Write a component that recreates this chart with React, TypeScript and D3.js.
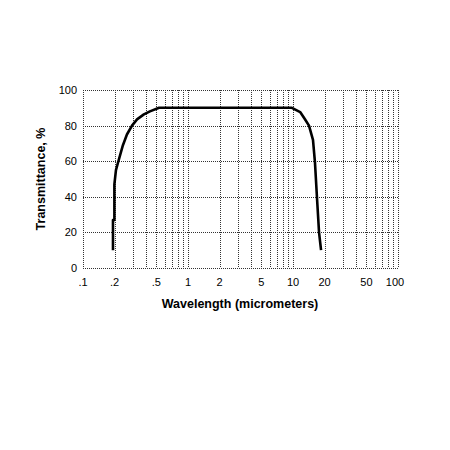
import React, { useRef, useEffect } from "react";
import * as d3 from "d3";

// wavelength (micrometers) and transmittance (%)
const wavelengths = [
  0.193, 0.193, 0.199, 0.199, 0.206, 0.215, 0.24, 0.262, 0.293, 0.327, 0.38, 0.434, 0.53,
  9.77, 11.7, 13.0, 14.2, 15.5, 16.2, 16.9, 17.7, 18.5,
];
const transmittance = [
  10, 27, 27, 47, 55, 59, 69, 75, 80, 83.5, 86.3, 88, 90,
  90, 87.6, 83.6, 80, 72, 59, 40, 20, 10,
];

const xTicks = [0.1, 0.2, 0.5, 1, 2, 5, 10, 20, 50, 100];
const xTickLabels = [".1", ".2", ".5", "1", "2", "5", "10", "20", "50", "100"];
const yTicks = [0, 20, 40, 60, 80, 100];

const FONT = "'Liberation Sans', Arial, sans-serif";

const App = () => {
  const svgRef = useRef(null);

  useEffect(() => {
    if (!svgRef.current) return;

    const width = 450;
    const height = 450;
    const plot = { left: 83, right: 398, top: 90, bottom: 268 };

    const svg = d3.select(svgRef.current);
    svg.selectAll("*").remove();

    svg.append("rect")
      .attr("width", width)
      .attr("height", height)
      .attr("fill", "#fff");

    const x = d3.scaleLog().domain([0.1, 100]).range([plot.left, plot.right]);
    const y = d3.scaleLinear().domain([0, 100]).range([plot.bottom, plot.top]);

    // minor + major vertical gridlines: 1..9 in every decade
    const gridX: number[] = [];
    [0.1, 1, 10].forEach((dec) => {
      for (let k = 1; k <= 9; k++) gridX.push(dec * k);
    });
    gridX.push(100);

    const grid = svg.append("g")
      .attr("stroke", "#333")
      .attr("stroke-width", 1)
      .attr("stroke-dasharray", "1,1")
      .attr("shape-rendering", "crispEdges");

    grid.selectAll("line.vx")
      .data(gridX)
      .enter()
      .append("line")
      .attr("class", "vx")
      .attr("x1", (d) => Math.round(x(d)) + 0.5)
      .attr("x2", (d) => Math.round(x(d)) + 0.5)
      .attr("y1", plot.top)
      .attr("y2", plot.bottom);

    grid.selectAll("line.hy")
      .data(yTicks)
      .enter()
      .append("line")
      .attr("class", "hy")
      .attr("x1", plot.left)
      .attr("x2", plot.right)
      .attr("y1", (d) => Math.round(y(d)) + 0.5)
      .attr("y2", (d) => Math.round(y(d)) + 0.5);

    // tick labels
    svg.append("g")
      .selectAll("text")
      .data(yTicks)
      .enter()
      .append("text")
      .attr("x", plot.left - 6)
      .attr("y", (d) => y(d) + 4)
      .attr("text-anchor", "end")
      .style("font-family", FONT)
      .style("font-size", "11px")
      .text((d) => d);

    svg.append("g")
      .selectAll("text")
      .data(xTicks)
      .enter()
      .append("text")
      .attr("x", (d) => x(d) + (d === 100 ? -3 : 0))
      .attr("y", plot.bottom + 18)
      .attr("text-anchor", "middle")
      .style("font-family", FONT)
      .style("font-size", "11px")
      .text((d, i) => xTickLabels[i]);

    // axis titles
    svg.append("text")
      .attr("x", 240)
      .attr("y", 308)
      .attr("text-anchor", "middle")
      .style("font-family", FONT)
      .style("font-size", "12.5px")
      .style("font-weight", "bold")
      .text("Wavelength (micrometers)");

    svg.append("text")
      .attr("transform", `translate(45, ${(plot.top + plot.bottom) / 2}) rotate(-90)`)
      .attr("text-anchor", "middle")
      .style("font-family", FONT)
      .style("font-size", "12.5px")
      .style("font-weight", "bold")
      .text("Transmittance, %");

    // the curve
    const pts: [number, number][] = wavelengths.map((w, i) => [w, transmittance[i]]);
    const line = d3.line<[number, number]>()
      .x((d) => x(d[0]))
      .y((d) => y(d[1]));

    svg.append("path")
      .datum(pts)
      .attr("d", line)
      .attr("fill", "none")
      .attr("stroke", "#000")
      .attr("stroke-width", 2.6)
      .attr("stroke-linejoin", "round");
  }, []);

  return (
    <svg
      ref={svgRef}
      width={450}
      height={450}
      style={{ position: "absolute", left: 0, top: 0, display: "block" }}
    />
  );
};

export default App;
